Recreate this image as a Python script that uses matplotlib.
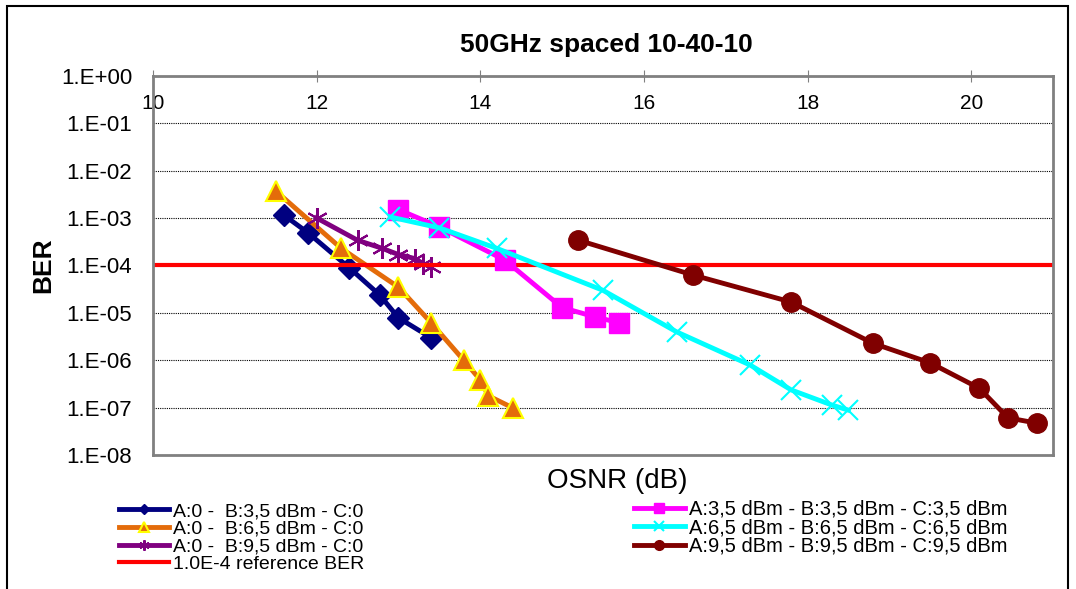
import math
import matplotlib
matplotlib.use("Agg")
import matplotlib.pyplot as plt
from matplotlib.patches import Rectangle
from matplotlib.ticker import FixedLocator, FuncFormatter

plt.rcParams['font.family'] = ['Liberation Sans', 'DejaVu Sans']

# data (OSNR dB, BER)
osnr_b35 = [11.6, 11.9, 12.4, 12.77, 13.0, 13.4]
ber_b35 = [1.15e-3, 4.8e-4, 8.9e-5, 2.4e-5, 7.9e-6, 3.0e-6]

osnr_b65 = [11.5, 12.3, 13.0, 13.4, 13.8, 14.0, 14.1, 14.4]
ber_b65 = [3.7e-3, 2.3e-4, 3.5e-5, 6.2e-6, 1.0e-6, 3.9e-7, 1.8e-7, 1.0e-7]

osnr_b95 = [12.0, 12.5, 12.8, 13.0, 13.2, 13.3, 13.4]
ber_b95 = [1.0e-3, 3.4e-4, 2.3e-4, 1.7e-4, 1.4e-4, 1.1e-4, 9.3e-5]

osnr_all35 = [13.0, 13.5, 14.3, 15.0, 15.4, 15.7]
ber_all35 = [1.5e-3, 6.5e-4, 1.3e-4, 1.3e-5, 8.3e-6, 6.2e-6]

osnr_all65 = [12.9, 13.5, 14.2, 15.5, 16.4, 17.3, 17.8, 18.3, 18.5]
ber_all65 = [1.05e-3, 6.2e-4, 2.3e-4, 3.0e-5, 4.0e-6, 8.0e-7, 2.4e-7, 1.15e-7, 9.0e-8]

osnr_all95 = [15.2, 16.6, 17.8, 18.8, 19.5, 20.1, 20.45, 20.8]
ber_all95 = [3.4e-4, 6.3e-5, 1.7e-5, 2.3e-6, 8.9e-7, 2.6e-7, 6.2e-8, 4.8e-8]

ref_osnr = [10, 21]
ref_ber = [1e-4, 1e-4]

fig = plt.figure(figsize=(10.76, 5.89), dpi=100)
ax = fig.add_axes([0.1422, 0.2267, 0.8364, 0.6451])

l1, = ax.plot(osnr_b35, ber_b35, color='#000080', lw=3.5, marker='D', ms=11,
              label='A:0 -  B:3,5 dBm - C:0')
l2, = ax.plot(osnr_b65, ber_b65, color='#E46C0A', lw=3.5, marker='^', ms=14,
              mfc='#E46C0A', mec='#FFFF00', mew=1.5, label='A:0 -  B:6,5 dBm - C:0')
l3, = ax.plot(osnr_b95, ber_b95, color='#800080', lw=3.5, marker=(6, 2, 0), ms=15,
              mew=1.5, label='A:0 -  B:9,5 dBm - C:0')
lr, = ax.plot(ref_osnr, ref_ber, color='#FF0000', lw=3, label='1.0E-4 reference BER')
l4, = ax.plot(osnr_all35, ber_all35, color='#FF00FF', lw=3.5, marker='s', ms=15,
              label='A:3,5 dBm - B:3,5 dBm - C:3,5 dBm')
l5, = ax.plot(osnr_all65, ber_all65, color='#00FFFF', lw=3.5, marker='x', ms=15,
              mew=1.5, label='A:6,5 dBm - B:6,5 dBm - C:6,5 dBm')
l6, = ax.plot(osnr_all95, ber_all95, color='#800000', lw=3.5, marker='o', ms=14,
              label='A:9,5 dBm - B:9,5 dBm - C:9,5 dBm')

ax.set_yscale('log')
ax.set_ylim(1e-8, 1)
ax.set_xlim(10, 21)
ax.yaxis.set_major_locator(FixedLocator([10.0 ** -k for k in range(9)]))
ax.yaxis.set_minor_locator(FixedLocator([]))
ax.yaxis.set_major_formatter(FuncFormatter(lambda v, p: '1.E%+03d' % round(math.log10(v))))
ax.set_xticks([10, 12, 14, 16, 18, 20])
ax.xaxis.set_ticks_position('top')
ax.tick_params(axis='x', direction='inout', length=8, pad=-31, labelsize=15, color='#808080')
ax.tick_params(axis='y', direction='out', length=0, pad=15, labelsize=16)
ax.grid(axis='y', color='black', ls=(0, (1, 1)), lw=0.8)
for s in ax.spines.values():
    s.set_color('#808080')
    s.set_linewidth(2)

fig.text(606 / 1076, 1 - 45 / 589, '50GHz spaced 10-40-10', fontsize=19,
         fontweight='bold', ha='center', va='center')
fig.text(43 / 1076, 1 - 265 / 589, 'BER', fontsize=19, fontweight='bold',
         rotation=90, ha='center', va='center')
fig.text(617 / 1076, 1 - 481 / 589, 'OSNR (dB)', fontsize=20,
         ha='center', va='center')

leg1 = fig.legend(handles=[l1, l2, l3, lr], loc='upper left', bbox_to_anchor=(0.103, 0.16),
                  frameon=False, fontsize=14, labelspacing=0.0, handlelength=2.6,
                  handletextpad=0.2, markerscale=0.5, borderaxespad=0)
leg2 = fig.legend(handles=[l4, l5, l6], loc='upper left', bbox_to_anchor=(0.582, 0.165),
                  frameon=False, fontsize=14.5, labelspacing=-0.03, handlelength=2.5,
                  handletextpad=0.2, markerscale=0.5, borderaxespad=0)

fig.patches.append(Rectangle((7 / 1076, -0.05), 1061 / 1076, 1.05 - 6 / 589,
                             transform=fig.transFigure, fill=False, ec='black', lw=1.5))

fig.savefig('out.png', dpi=100)
